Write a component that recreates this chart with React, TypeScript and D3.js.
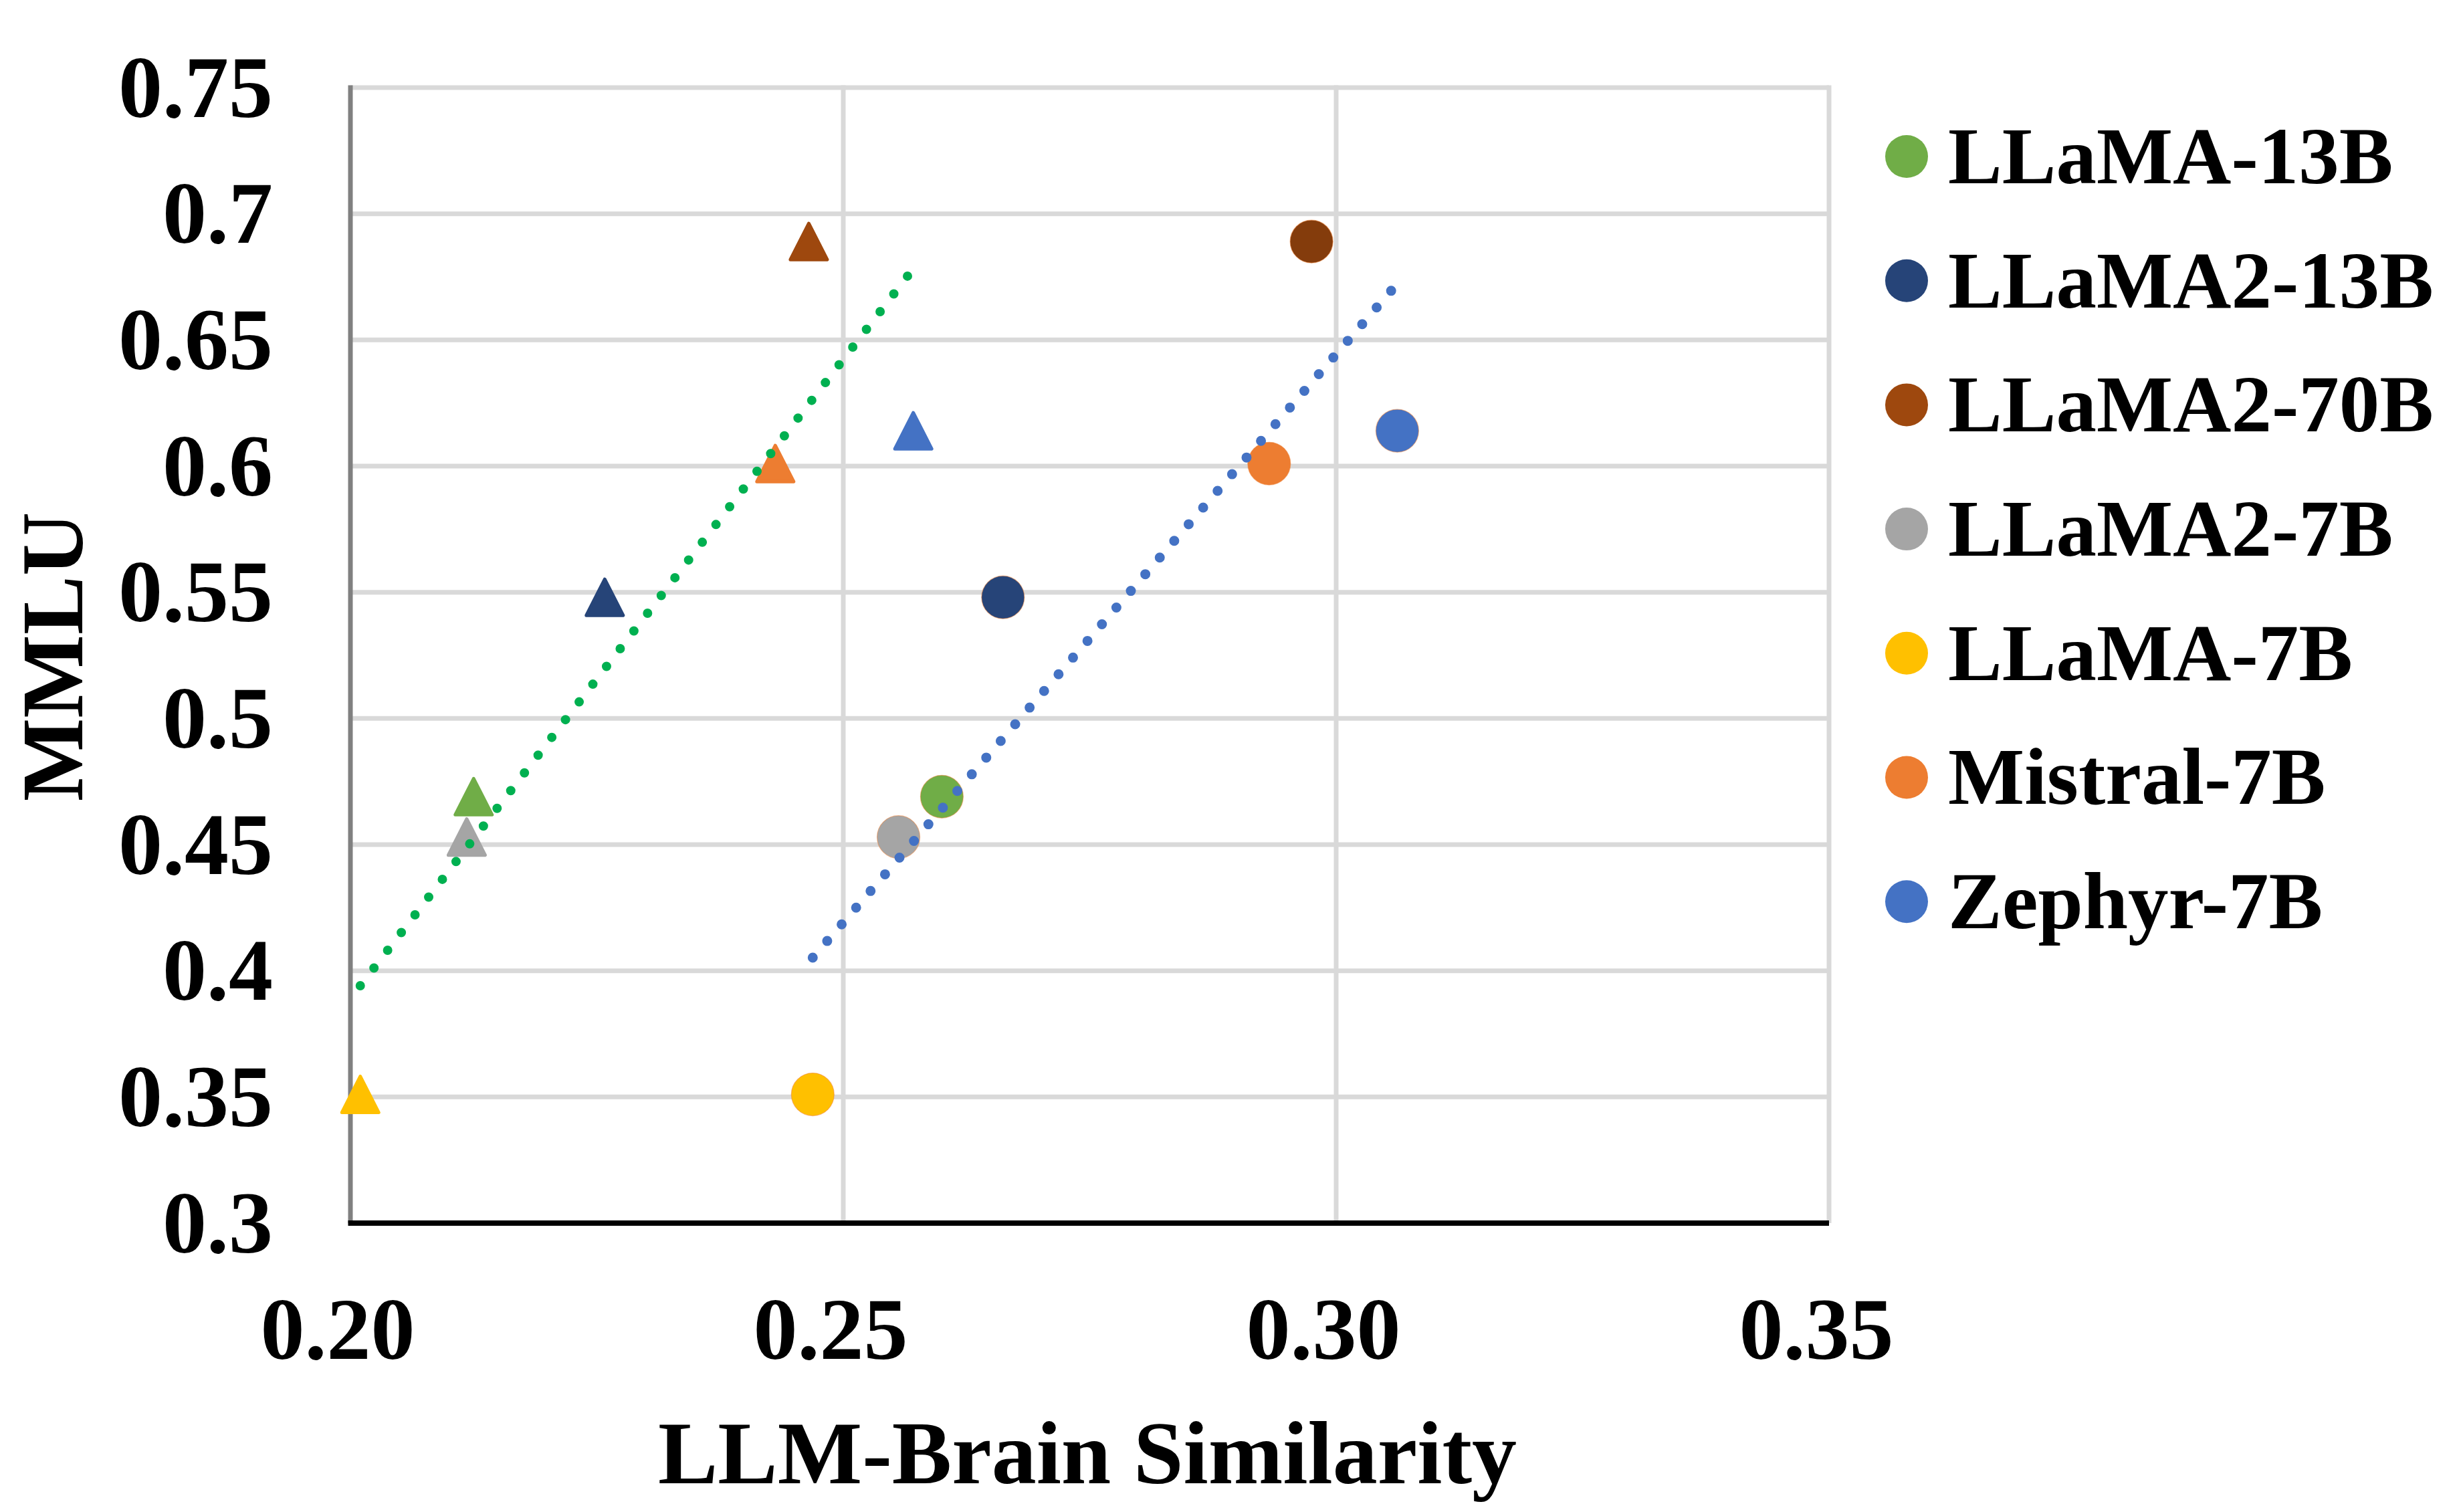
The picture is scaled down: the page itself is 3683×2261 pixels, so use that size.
import * as d3 from 'd3';
import React from 'react';

// models, in legend order
const models = ['LLaMA-13B', 'LLaMA2-13B', 'LLaMA2-70B', 'LLaMA2-7B', 'LLaMA-7B', 'Mistral-7B', 'Zephyr-7B'];
const colors = ['#70AD47', '#264478', '#9E480E', '#A5A5A5', '#FFC000', '#ED7D31', '#4472C4'];
const circleColors = ['#70AD47', '#264478', '#843C0C', '#A5A5A5', '#FFC000', '#ED7D31', '#4472C4'];
const mmlu = [0.469, 0.548, 0.689, 0.453, 0.351, 0.601, 0.614];
// similarity (triangle series)
const simTriangle = [0.2125, 0.2258, 0.2465, 0.2118, 0.201, 0.2431, 0.2571];
// similarity (circle series)
const simCircle = [0.26, 0.2662, 0.2975, 0.2556, 0.2469, 0.2932, 0.3062];

const xTicks = [0.2, 0.25, 0.3, 0.35];
const yTicks = [0.3, 0.35, 0.4, 0.45, 0.5, 0.55, 0.6, 0.65, 0.7, 0.75];

const W = 3683;
const H = 2261;
const FONT = '"Liberation Serif", "Times New Roman", serif';

// linear trendline over the x-range of the series
function trend(xs: number[], ys: number[]) {
  const mx = d3.mean(xs) as number;
  const my = d3.mean(ys) as number;
  const sxy = d3.sum(xs, (x, i) => (x - mx) * (ys[i] - my));
  const sxx = d3.sum(xs, x => (x - mx) * (x - mx));
  const slope = sxy / sxx;
  const [x0, x1] = d3.extent(xs) as [number, number];
  return [
    [x0, my + slope * (x0 - mx)],
    [x1, my + slope * (x1 - mx)],
  ] as [number, number][];
}

export default function App() {
  const x = d3.scaleLinear().domain([0.2, 0.35]).range([524, 2735]);
  const y = d3.scaleLinear().domain([0.3, 0.75]).range([1829, 131]);
  const line = d3
    .line<[number, number]>()
    .x(d => x(d[0]))
    .y(d => y(d[1]));
  const tri = 'M0,-27 L27.5,27 L-27.5,27 Z';

  const greenTrend = trend(simTriangle, mmlu);
  const blueTrend = trend(simCircle, mmlu);

  return (
    <svg
      width={W}
      height={H}
      style={{ position: 'absolute', left: 0, top: 0, background: '#fff' }}
      fontFamily={FONT}
      fontWeight="bold"
    >
      {/* grid */}
      {yTicks.slice(1).map(t => (
        <line key={'gy' + t} x1={x(0.2)} x2={x(0.35)} y1={y(t)} y2={y(t)} stroke="#D9D9D9" strokeWidth={7} />
      ))}
      {xTicks.slice(1).map(t => (
        <line key={'gx' + t} x1={x(t)} x2={x(t)} y1={y(0.75) - 3.5} y2={y(0.3)} stroke="#D9D9D9" strokeWidth={7} />
      ))}
      {/* axes */}
      <line x1={x(0.2)} x2={x(0.2)} y1={y(0.75) - 3.5} y2={y(0.3)} stroke="#808080" strokeWidth={7} />
      <line x1={x(0.2) - 3.5} x2={x(0.35)} y1={y(0.3)} y2={y(0.3)} stroke="#000" strokeWidth={8} />

      {/* tick labels */}
      {yTicks.map(t => (
        <text key={'ly' + t} x={408} y={y(t)} dy="0.33em" textAnchor="end" fontSize={132}>
          {d3.format('')(t)}
        </text>
      ))}
      {xTicks.map(t => (
        <text key={'lx' + t} x={x(t) - 19} y={2032} textAnchor="middle" fontSize={132}>
          {d3.format('.2f')(t)}
        </text>
      ))}

      {/* axis titles */}
      <text x={1626} y={2218} textAnchor="middle" fontSize={134}>
        LLM-Brain Similarity
      </text>
      <text transform="translate(123,982) rotate(-90)" textAnchor="middle" fontSize={132}>
        MMLU
      </text>

      {/* triangles */}
      {models.map((m, i) => (
        <path
          key={'t' + m}
          d={tri}
          transform={`translate(${x(simTriangle[i])},${y(mmlu[i])})`}
          fill={colors[i]}
          stroke={colors[i]}
          strokeWidth={5}
          strokeLinejoin="round"
        />
      ))}
      {/* circles */}
      {models.map((m, i) => (
        <circle
          key={'c' + m}
          cx={x(simCircle[i])}
          cy={y(mmlu[i])}
          r={32}
          fill={circleColors[i]}
          stroke="#ED7D31"
          strokeOpacity={0.5}
          strokeWidth={1.2}
        />
      ))}

      {/* trendlines */}
      <path d={line(greenTrend) as string} stroke="#00B050" strokeWidth={14} strokeLinecap="round" strokeDasharray="0 33.5" fill="none" />
      <path d={line(blueTrend) as string} stroke="#4472C4" strokeWidth={15} strokeLinecap="round" strokeDasharray="0 33" fill="none" />

      {/* legend */}
      {models.map((m, i) => (
        <g key={'lg' + m} transform={`translate(0,${234 + i * 185.7})`}>
          <circle cx={2851} cy={0} r={32} fill={colors[i]} />
          <text x={2913} y={0} dy="0.33em" fontSize={121}>
            {m}
          </text>
        </g>
      ))}
    </svg>
  );
}
